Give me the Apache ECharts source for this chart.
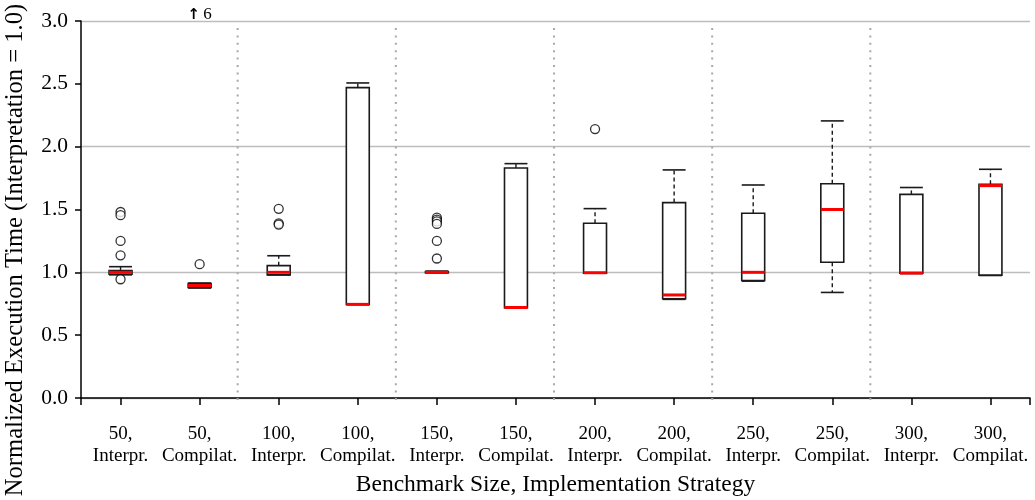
<!DOCTYPE html>
<html>
<head>
<meta charset="utf-8">
<script src="https://cdn.jsdelivr.net/npm/echarts@6/dist/echarts.min.js"></script>
<style>
html,body{margin:0;padding:0;background:#fff;}
#chart{width:1035px;height:500px;}
</style>
</head>
<body>
<div id="chart"></div>
<script>
// ---- data ----
const categories = ['50,\nInterpr.', '50,\nCompilat.', '100,\nInterpr.', '100,\nCompilat.',
  '150,\nInterpr.', '150,\nCompilat.', '200,\nInterpr.', '200,\nCompilat.',
  '250,\nInterpr.', '250,\nCompilat.', '300,\nInterpr.', '300,\nCompilat.'];
const whiskerLow  = [0.98, 0.875, 0.98, 0.745, 0.995, 0.718, 0.993, 0.785, 0.93, 0.84, 0.99, 0.975];
const quartile1   = [0.985, 0.88, 0.98, 0.745, 0.997, 0.718, 0.993, 0.79, 0.935, 1.08, 0.993, 0.978];
const medians     = [1.0, 0.895, 1.0, 0.745, 1.0, 0.72, 0.997, 0.82, 1.0, 1.5, 0.995, 1.69];
const quartile3   = [1.015, 0.91, 1.053, 2.47, 1.005, 1.83, 1.39, 1.555, 1.47, 1.705, 1.62, 1.70];
const whiskerHigh = [1.045, 0.915, 1.132, 2.507, 1.01, 1.865, 1.507, 1.815, 1.695, 2.205, 1.675, 1.82];
const outliers = [[0, 1.48], [0, 1.455], [0, 1.25], [0, 1.135], [0, 0.945],
  [1, 1.065],
  [2, 1.505], [2, 1.39], [2, 1.38],
  [4, 1.435], [4, 1.42], [4, 1.405], [4, 1.385], [4, 1.25], [4, 1.11],
  [6, 2.14]];
const offScale = [[1, 6]];           // outlier above the visible range
const dividerAfter = [1, 3, 5, 7, 9]; // dotted separators between benchmark sizes
const yTitle = 'Normalized Execution Time (Interpretation = 1.0)';
const xTitle = 'Benchmark Size, Implementation Strategy';

const serif = 'Liberation Serif';
const boxData = categories.map((c, i) => [i, whiskerLow[i], quartile1[i], medians[i], quartile3[i], whiskerHigh[i]]);

const chart = echarts.init(document.getElementById('chart'), null, {renderer: 'canvas'});
chart.setOption({
  animation: false,
  backgroundColor: '#fff',
  grid: {left: 81, right: 5, top: 21, bottom: 102, containLabel: false, outerBoundsMode: 'none'},
  graphic: [{
    type: 'text',
    x: 16, y: 250,
    rotation: Math.PI / 2,
    style: {
      text: yTitle,
      font: '24.6px "Liberation Serif"',
      fill: '#000',
      align: 'center', verticalAlign: 'middle',
      textAlign: 'center', textVerticalAlign: 'middle'
    }
  }],
  xAxis: [{
    type: 'category',
    data: categories,
    position: 'bottom',
    offset: 13,
    boundaryGap: true,
    axisLine: {show: true, lineStyle: {color: '#000', width: 1.5}},
    axisTick: {show: true, alignWithLabel: true, length: 7, lineStyle: {color: '#000', width: 1.5}},
    axisLabel: {fontFamily: serif, fontSize: 19, color: '#000', lineHeight: 22, margin: 12, interval: 0},
    splitLine: {show: false},
    name: xTitle,
    nameLocation: 'middle',
    nameGap: 62,
    nameTextStyle: {fontFamily: serif, fontSize: 23.5, color: '#000'}
  }, {
    type: 'category',
    data: categories,
    position: 'bottom',
    offset: 13,
    boundaryGap: true,
    axisLine: {show: false},
    axisTick: {show: true, length: 7, interval: function (idx) { return idx === 0; }, lineStyle: {color: '#000', width: 1.5}},
    axisLabel: {show: false},
    splitLine: {show: false}
  }],
  yAxis: [{
    type: 'value',
    min: 0, max: 3, interval: 0.5,
    axisLine: {show: true, lineStyle: {color: '#000', width: 1.5}},
    axisTick: {show: true, length: 6, lineStyle: {color: '#000', width: 1.5}},
    axisLabel: {fontFamily: serif, fontSize: 21.5, color: '#000', margin: 13,
      formatter: v => v.toFixed(1)},
    splitLine: {show: false}
  }, {
    type: 'value',
    min: 0, max: 3, interval: 1,
    position: 'left',
    axisLine: {show: false},
    axisTick: {show: false},
    axisLabel: {show: false},
    splitLine: {show: true, lineStyle: {color: '#bdbdbd', width: 1.3}}
  }],
  series: [{
    type: 'custom',
    name: 'dividers',
    xAxisIndex: 0, yAxisIndex: 0,
    clip: false,
    z: 1,
    data: dividerAfter.map(i => [i, 0]),
    renderItem: function (params, api) {
      const i = api.value(0);
      const band = api.size([1, 0])[0];
      const x = api.coord([i, 0])[0] + band / 2 - 1.5;
      const cs = params.coordSys;
      return {
        type: 'line',
        shape: {x1: x, y1: cs.y + 7, x2: x, y2: cs.y + cs.height + 7},
        style: {stroke: '#a8a8a8', lineWidth: 2, lineDash: [2, 5.4]}
      };
    }
  }, {
    type: 'custom',
    name: 'boxes',
    xAxisIndex: 0, yAxisIndex: 0,
    z: 3,
    data: boxData,
    renderItem: function (params, api) {
      const i = api.value(0);
      const x = api.coord([i, 0])[0];
      const band = api.size([1, 0])[0];
      const w = band * 0.29;
      const yLow = api.coord([i, api.value(1)])[1];
      const yQ1 = api.coord([i, api.value(2)])[1];
      const yMed = api.coord([i, api.value(3)])[1];
      const yQ3 = api.coord([i, api.value(4)])[1];
      const yHigh = api.coord([i, api.value(5)])[1];
      const black = '#1a1a1a';
      return {
        type: 'group',
        children: [
          {type: 'line', shape: {x1: x, y1: yQ3, x2: x, y2: yHigh}, style: {stroke: black, lineWidth: 1.4, lineDash: [4, 3]}},
          {type: 'line', shape: {x1: x, y1: yQ1, x2: x, y2: yLow}, style: {stroke: black, lineWidth: 1.4, lineDash: [4, 3]}},
          {type: 'line', shape: {x1: x - w / 2, y1: yHigh, x2: x + w / 2, y2: yHigh}, style: {stroke: black, lineWidth: 1.6}},
          {type: 'line', shape: {x1: x - w / 2, y1: yLow, x2: x + w / 2, y2: yLow}, style: {stroke: black, lineWidth: 1.6}},
          {type: 'rect', shape: {x: x - w / 2, y: yQ3, width: w, height: yQ1 - yQ3}, style: {fill: '#fff', stroke: black, lineWidth: 1.6}},
          {type: 'line', shape: {x1: x - w / 2, y1: yMed, x2: x + w / 2, y2: yMed}, style: {stroke: '#ff0000', lineWidth: 3}}
        ]
      };
    }
  }, {
    type: 'scatter',
    name: 'outliers',
    xAxisIndex: 0, yAxisIndex: 0,
    z: 4,
    symbol: 'circle',
    symbolSize: 9,
    itemStyle: {color: '#fff', borderColor: '#000', borderWidth: 1.3},
    data: outliers
  }, {
    type: 'custom',
    name: 'offscale',
    xAxisIndex: 0, yAxisIndex: 0,
    clip: false,
    z: 5,
    data: offScale,
    renderItem: function (params, api) {
      const i = api.value(0);
      const x = api.coord([i, 0])[0];
      const cs = params.coordSys;
      return {
        type: 'text',
        x: x, y: cs.y - 6,
        style: {
          text: '{a|\u2191} {b|' + api.value(1) + '}',
          align: 'center', verticalAlign: 'middle',
          rich: {
            a: {fontFamily: 'DejaVu Sans', fontSize: 15, fontWeight: 'bold', fill: '#000'},
            b: {fontFamily: serif, fontSize: 17, fill: '#000'}
          }
        }
      };
    }
  }]
});
</script>
</body>
</html>
